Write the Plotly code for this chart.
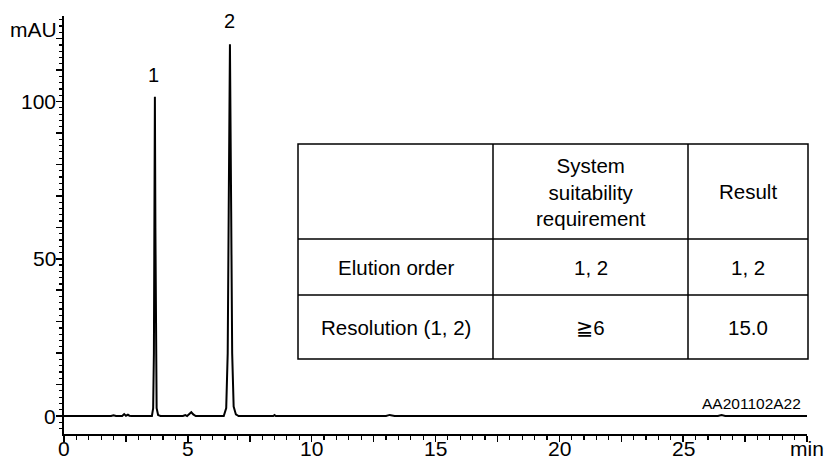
import plotly.graph_objects as go

# ---- data ----
time_min = [0, 1.9, 2.0, 2.1, 2.35, 2.43, 2.5, 2.58, 2.64, 2.72, 3.55, 3.60, 3.63, 3.65, 3.67,
            3.69, 3.71, 3.74, 3.80, 3.9, 4.8, 4.9, 4.97, 5.06, 5.14, 5.22, 5.32, 6.0, 6.45,
            6.55, 6.61, 6.65, 6.70, 6.75, 6.79, 6.85, 6.94, 7.05, 8.45, 8.5, 8.55, 13.0,
            13.15, 13.35, 26.4, 26.55, 26.7, 30]
absorbance = [0, 0, 0.25, 0, 0, 0.6, 0.1, 0.4, 0.1, 0, 0, 2.5, 20, 60, 101.5,
              60, 20, 2.5, 0.3, 0, 0, 0.3, 0, 0.5, 1.2, 0.5, 0, 0, 0,
              2.5, 20, 65, 118.2, 65, 20, 3, 0.5, 0, 0, 0.3, 0, 0,
              0.35, 0, 0, 0.3, 0, 0]

peak_labels = ["1", "2"]
peak_times = [3.62, 6.70]
label_heights = [108.5, 125.5]

x_major = [0, 2.5, 5, 7.5, 10, 12.5, 15, 17.5, 20, 22.5, 25, 27.5, 30]
x_label_vals = [0, 5, 10, 15, 20, 25]
x_unit = "min"
x_unit_pos = 30
y_major = [0, 10, 20, 30, 40, 50, 60, 70, 80, 90, 100, 110, 120]
y_label_vals = [0, 50, 100]
y_unit = "mAU"

table_header = ["", "System<br>suitability<br>requirement", "Result"]
row_names = ["Elution order", "Resolution (1, 2)"]
requirement = ["1, 2", "≧6"]
result = ["1, 2", "15.0"]
sample_id = "AA201102A22"

FONT = "Liberation Sans, Arial, DejaVu Sans, sans-serif"

# page is 825x465; the body margin is removed by a small script below
W, H = 825, 465
# plot area in page pixels
X0, X1, Y0, Y1 = 64, 807, 16, 434
L, R, T, B = X0, W - X1, Y0, H - Y1


def px(x):
    return (x - X0) / (X1 - X0)


def py(y):
    return (Y1 - y) / (Y1 - Y0)


fig = go.Figure()
fig.add_trace(go.Scatter(x=time_min, y=absorbance, mode="lines",
                         line=dict(color="black", width=2), hoverinfo="skip",
                         showlegend=False, cliponaxis=False))

for lab, t, h in zip(peak_labels, peak_times, label_heights):
    fig.add_annotation(x=t, y=h, text=lab, showarrow=False,
                       font=dict(family=FONT, size=20, color="black"))

# axis tick labels, placed on the axes' own scales
for v in x_label_vals:
    fig.add_annotation(x=v, xref="x", y=py(449), yref="paper", text=str(v),
                       showarrow=False, xanchor="center", yanchor="middle",
                       font=dict(family=FONT, size=21, color="black"))
fig.add_annotation(x=x_unit_pos, xref="x", y=py(449), yref="paper", text=x_unit,
                   showarrow=False, xanchor="center", yanchor="middle",
                   font=dict(family=FONT, size=21, color="black"))
for v in y_label_vals:
    fig.add_annotation(x=px(57.5), xref="paper", y=v, yref="y", text=str(v),
                       showarrow=False, xanchor="right", yanchor="middle",
                       font=dict(family=FONT, size=21, color="black"))
fig.add_annotation(xref="paper", yref="paper", x=px(59), y=py(29), text=y_unit,
                   showarrow=False, xanchor="right", yanchor="middle",
                   font=dict(family=FONT, size=21, color="black"))

# table
xs = [298, 493, 688, 808]
ys = [144, 239, 295, 359]
fig.add_shape(type="rect", xref="paper", yref="paper", x0=px(xs[0]), x1=px(xs[-1]),
              y0=py(ys[0]), y1=py(ys[-1]), line=dict(color="black", width=1.5),
              fillcolor="white", layer="above")
for xv in xs[1:-1]:
    fig.add_shape(type="line", xref="paper", yref="paper", x0=px(xv), x1=px(xv),
                  y0=py(ys[0]), y1=py(ys[-1]), line=dict(color="black", width=1.5))
for yv in ys[1:-1]:
    fig.add_shape(type="line", xref="paper", yref="paper", x0=px(xs[0]), x1=px(xs[-1]),
                  y0=py(yv), y1=py(yv), line=dict(color="black", width=1.5))

rows = [table_header] + [[n, q, r] for n, q, r in zip(row_names, requirement, result)]
for ri, row in enumerate(rows):
    cy = (ys[ri] + ys[ri + 1]) / 2
    for ci, txt in enumerate(row):
        if not txt:
            continue
        cx = (xs[ci] + xs[ci + 1]) / 2
        fig.add_annotation(xref="paper", yref="paper", x=px(cx), y=py(cy), text=txt,
                           showarrow=False, xanchor="center", yanchor="middle",
                           font=dict(family=FONT, size=20.5, color="black"))

fig.add_annotation(xref="paper", yref="paper", x=px(803), y=py(403), text=sample_id,
                   showarrow=False, xanchor="right", yanchor="middle",
                   font=dict(family=FONT, size=15.5, color="black"))

fig.update_layout(
    width=W, height=H,
    margin=dict(l=L, r=R, t=T, b=B, pad=0, autoexpand=False),
    paper_bgcolor="white", plot_bgcolor="white",
    font=dict(family=FONT, size=21, color="black"),
    xaxis=dict(range=[0, 30], showgrid=False, zeroline=False, showline=True,
               linecolor="black", linewidth=2, ticks="outside", ticklen=6,
               tickwidth=1.5, tickcolor="black", tickvals=x_major,
               showticklabels=False, automargin=False,
               minor=dict(dtick=0.5, ticks="outside", ticklen=3.5, tickcolor="black",
                          tickwidth=1.2, showgrid=False),
               fixedrange=True),
    yaxis=dict(range=[-5.72, 127.2], showgrid=False, zeroline=False, showline=True,
               linecolor="black", linewidth=2, ticks="outside", ticklen=6,
               tickwidth=1.5, tickcolor="black", tickvals=y_major,
               showticklabels=False, automargin=False,
               minor=dict(dtick=2, tick0=0, ticks="outside", ticklen=3.5, tickcolor="black",
                          tickwidth=1.2, showgrid=False),
               fixedrange=True),
)

fig.write_html("out.html", config={"displayModeBar": False, "staticPlot": True},
               post_script="document.body.style.margin='0';"
                           "document.body.style.overflow='hidden';")
